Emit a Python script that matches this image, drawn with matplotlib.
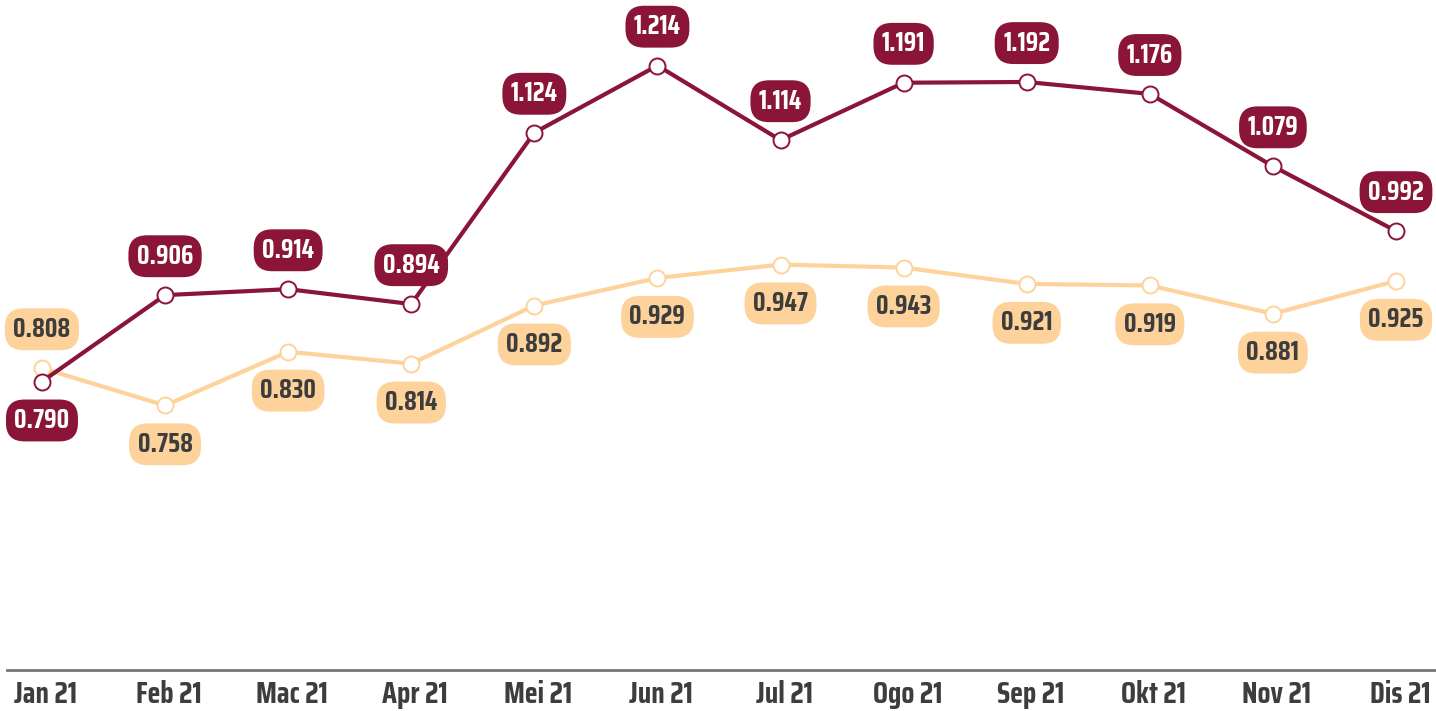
import matplotlib
matplotlib.use('Agg')
import matplotlib.pyplot as plt
import matplotlib.transforms as mtransforms

months = ['Jan 21', 'Feb 21', 'Mac 21', 'Apr 21', 'Mei 21', 'Jun 21',
          'Jul 21', 'Ogo 21', 'Sep 21', 'Okt 21', 'Nov 21', 'Dis 21']
series_dark = [0.790, 0.906, 0.914, 0.894, 1.124, 1.214,
               1.114, 1.191, 1.192, 1.176, 1.079, 0.992]
series_light = [0.808, 0.758, 0.830, 0.814, 0.892, 0.929,
                0.947, 0.943, 0.921, 0.919, 0.881, 0.925]

DARK = '#8a1538'
LIGHT = '#fdd39b'
TEXT = '#3d3d3d'
FONT = ['Saira Condensed', 'Saira ExtraCondensed', 'DejaVu Sans']

plt.rcParams['font.family'] = FONT

fig = plt.figure(figsize=(14.36, 7.11), dpi=100)
ax = fig.add_axes([7 / 1436, 41 / 711, 1 - 7 / 1436, 670 / 711])

x = list(range(len(months)))
ax.plot(x, series_light, color=LIGHT, lw=3, marker='o', ms=11.5,
        mfc='white', mec=LIGHT, mew=1.4, zorder=2)
ax.plot(x, series_dark, color=DARK, lw=3, marker='o', ms=11.5,
        mfc='white', mec=DARK, mew=1.4, zorder=3)

offset = 28  # points
box = 'round,pad=0.32,rounding_size=0.7'
for i in x:
    # dark labels above, except January below
    dy = -offset if i == 0 else offset
    ax.annotate(f'{series_dark[i]:.3f}', (i, series_dark[i]),
                xytext=(0, dy), textcoords='offset points',
                ha='center', va='center', fontsize=19, fontweight='bold',
                color='white', zorder=5,
                bbox=dict(boxstyle=box, fc=DARK, ec='none'))
    dy = offset if i == 0 else -offset
    ax.annotate(f'{series_light[i]:.3f}', (i, series_light[i]),
                xytext=(0, dy), textcoords='offset points',
                ha='center', va='center', fontsize=19, fontweight='bold',
                color=TEXT, zorder=4,
                bbox=dict(boxstyle=box, fc=LIGHT, ec='none'))

ax.set_xlim(-0.284, 11.325)
ax.set_ylim(0.403, 1.302)
ax.set_xticks(x)
ax.set_xticklabels(months, fontsize=21.5, fontweight='bold', color=TEXT)
ax.tick_params(axis='x', length=0, pad=7)
shift = mtransforms.ScaledTranslation(4 / 100, 0, fig.dpi_scale_trans)
for lab in ax.get_xticklabels():
    lab.set_transform(lab.get_transform() + shift)
ax.set_yticks([])
for s in ['top', 'right', 'left']:
    ax.spines[s].set_visible(False)
ax.spines['bottom'].set_color('#777777')
ax.spines['bottom'].set_linewidth(2)
ax.patch.set_alpha(0)

fig.savefig('out.png', dpi=100)
